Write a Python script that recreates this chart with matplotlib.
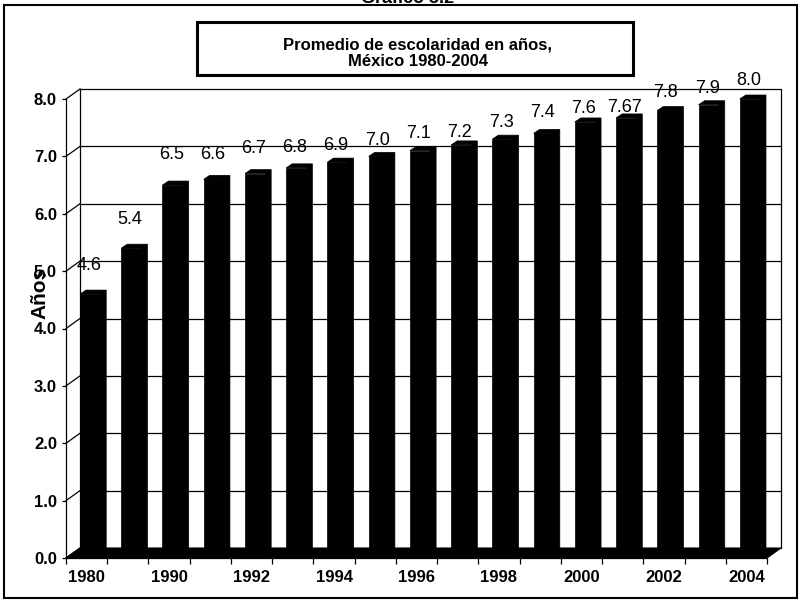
import matplotlib
matplotlib.use('Agg')
import matplotlib.pyplot as plt
from matplotlib.patches import Rectangle, Polygon
import numpy as np

# ---------------- data ----------------
years = ['1980', '1985', '1990', '1991', '1992', '1993', '1994', '1995', '1996',
         '1997', '1998', '1999', '2000', '2001', '2002', '2003', '2004']
values = [4.6, 5.4, 6.5, 6.6, 6.7, 6.8, 6.9, 7.0, 7.1, 7.2, 7.3, 7.4, 7.6, 7.67,
          7.8, 7.9, 8.0]
value_labels = ['4.6', '5.4', '6.5', '6.6', '6.7', '6.8', '6.9', '7.0', '7.1',
                '7.2', '7.3', '7.4', '7.6', '7.67', '7.8', '7.9', '8.0']
y_ticks = [0, 1, 2, 3, 4, 5, 6, 7, 8]
y_tick_labels = ['0.0', '1.0', '2.0', '3.0', '4.0', '5.0', '6.0', '7.0', '8.0']
title_lines = ['Promedio de escolaridad en años,', 'México 1980-2004']
top_caption = 'Gráfico 3.2'
y_title = 'Años'

# label placement (style, pixels above the value level)
label_gap_px = [24, 24, 26, 20, 21, 16, 12, 11, 13, 8, 12, 16, 9, 6, 13, 12, 14]

W, H = 803, 602
plt.rcParams['font.family'] = ['Liberation Sans', 'DejaVu Sans']
fig = plt.figure(figsize=(W / 100, H / 100), dpi=100)


def fx(px):
    return px / W


def fy(py):
    return 1 - py / H


# front plane of the pseudo-3D plot (pixels)
X0, X1 = 66, 767
Y0, Y8 = 558, 99
ax = fig.add_axes([fx(X0), fy(Y0), (X1 - X0) / W, (Y0 - Y8) / H])
n = len(values)
ax.set_xlim(-0.5, n - 0.5)
ax.set_ylim(0, 8)
ux = (X1 - X0) / n
uy = (Y0 - Y8) / 8
DX, DY = 14 / ux, 10 / uy      # wall depth
BDX, BDY = 6 / ux, 4 / uy      # bar depth

for s in ax.spines.values():
    s.set_visible(False)
ax.patch.set_visible(False)

xl, xr = -0.5, n - 0.5
lk = dict(color='black', lw=0.9, clip_on=False, zorder=1)
# back wall
ax.plot([xl + DX, xr + DX, xr + DX], [8 + DY, 8 + DY, DY], **lk)
for t in y_ticks[1:-1]:
    ax.plot([xl + DX, xr + DX], [t + DY, t + DY], **lk)
# left wall
ax.plot([xl, xl], [0, 8], **lk)
ax.plot([xl + DX, xl + DX], [DY, 8 + DY], **lk)
for t in y_ticks:
    ax.plot([xl, xl + DX], [t, t + DY], **lk)
# front x axis
ax.plot([xl, xr], [0, 0], **lk)
# floor
ax.add_patch(Polygon([(xl, 0), (xr, 0), (xr + DX, DY), (xl + DX, DY)],
                     closed=True, fc='black', ec='black', lw=0.8,
                     clip_on=False, zorder=2))

# bars
xpos = np.arange(n)
bars = ax.bar(xpos - 0.16, values, width=0.49, align='edge', color='black',
              edgecolor='black', lw=0.5, zorder=3)
for b in bars:
    x0, w, h = b.get_x(), b.get_width(), b.get_height()
    x1 = x0 + w
    ax.add_patch(Polygon([(x1, 0), (x1 + BDX, BDY), (x1 + BDX, h + BDY),
                          (x0 + BDX, h + BDY), (x0, h), (x1, h)],
                         closed=True, fc='black', ec='black', lw=0.5,
                         zorder=3, clip_on=False))

for i, (v, lab) in enumerate(zip(values, value_labels)):
    ax.annotate(lab, xy=(i + 0.05, v), xytext=(0, label_gap_px[i]),
                textcoords='offset pixels', ha='center', va='baseline',
                fontsize=13, color='black', zorder=5, annotation_clip=False)

# ticks
ax.set_yticks(y_ticks)
ax.set_yticklabels(y_tick_labels, fontsize=12, fontweight='bold')
ax.tick_params(axis='y', direction='out', length=3, width=0.9, pad=3.5)
ax.set_xticks(np.arange(n + 1) - 0.5)
ax.set_xticklabels([])
ax.tick_params(axis='x', which='major', direction='out', length=4.5, width=0.9)
ax.set_xticks(xpos[::2], minor=True)
ax.set_xticklabels(years[::2], minor=True, fontsize=12, fontweight='bold')
ax.tick_params(axis='x', which='minor', length=0, pad=9)

fig.text(fx(40), fy(293), y_title, rotation=90, ha='center', va='center',
         fontsize=15, fontweight='bold')

# title box
fig.patches.append(Rectangle((fx(197), fy(75)), fx(633) - fx(197), fy(22) - fy(75),
                             transform=fig.transFigure, fill=False,
                             ec='black', lw=2.2))
fig.text(fx(418), fy(45), title_lines[0], ha='center', va='center',
         fontsize=12, fontweight='bold')
fig.text(fx(418), fy(62), title_lines[1], ha='center', va='center',
         fontsize=12, fontweight='bold')

# outer frame
fig.patches.append(Rectangle((fx(4), fy(598)), fx(797) - fx(4), fy(5) - fy(598),
                             transform=fig.transFigure, fill=False,
                             ec='black', lw=1.5))
fig.text(fx(408), fy(3), top_caption, ha='center', va='baseline',
         fontsize=13, fontweight='bold')

fig.savefig('out.png', dpi=100)
